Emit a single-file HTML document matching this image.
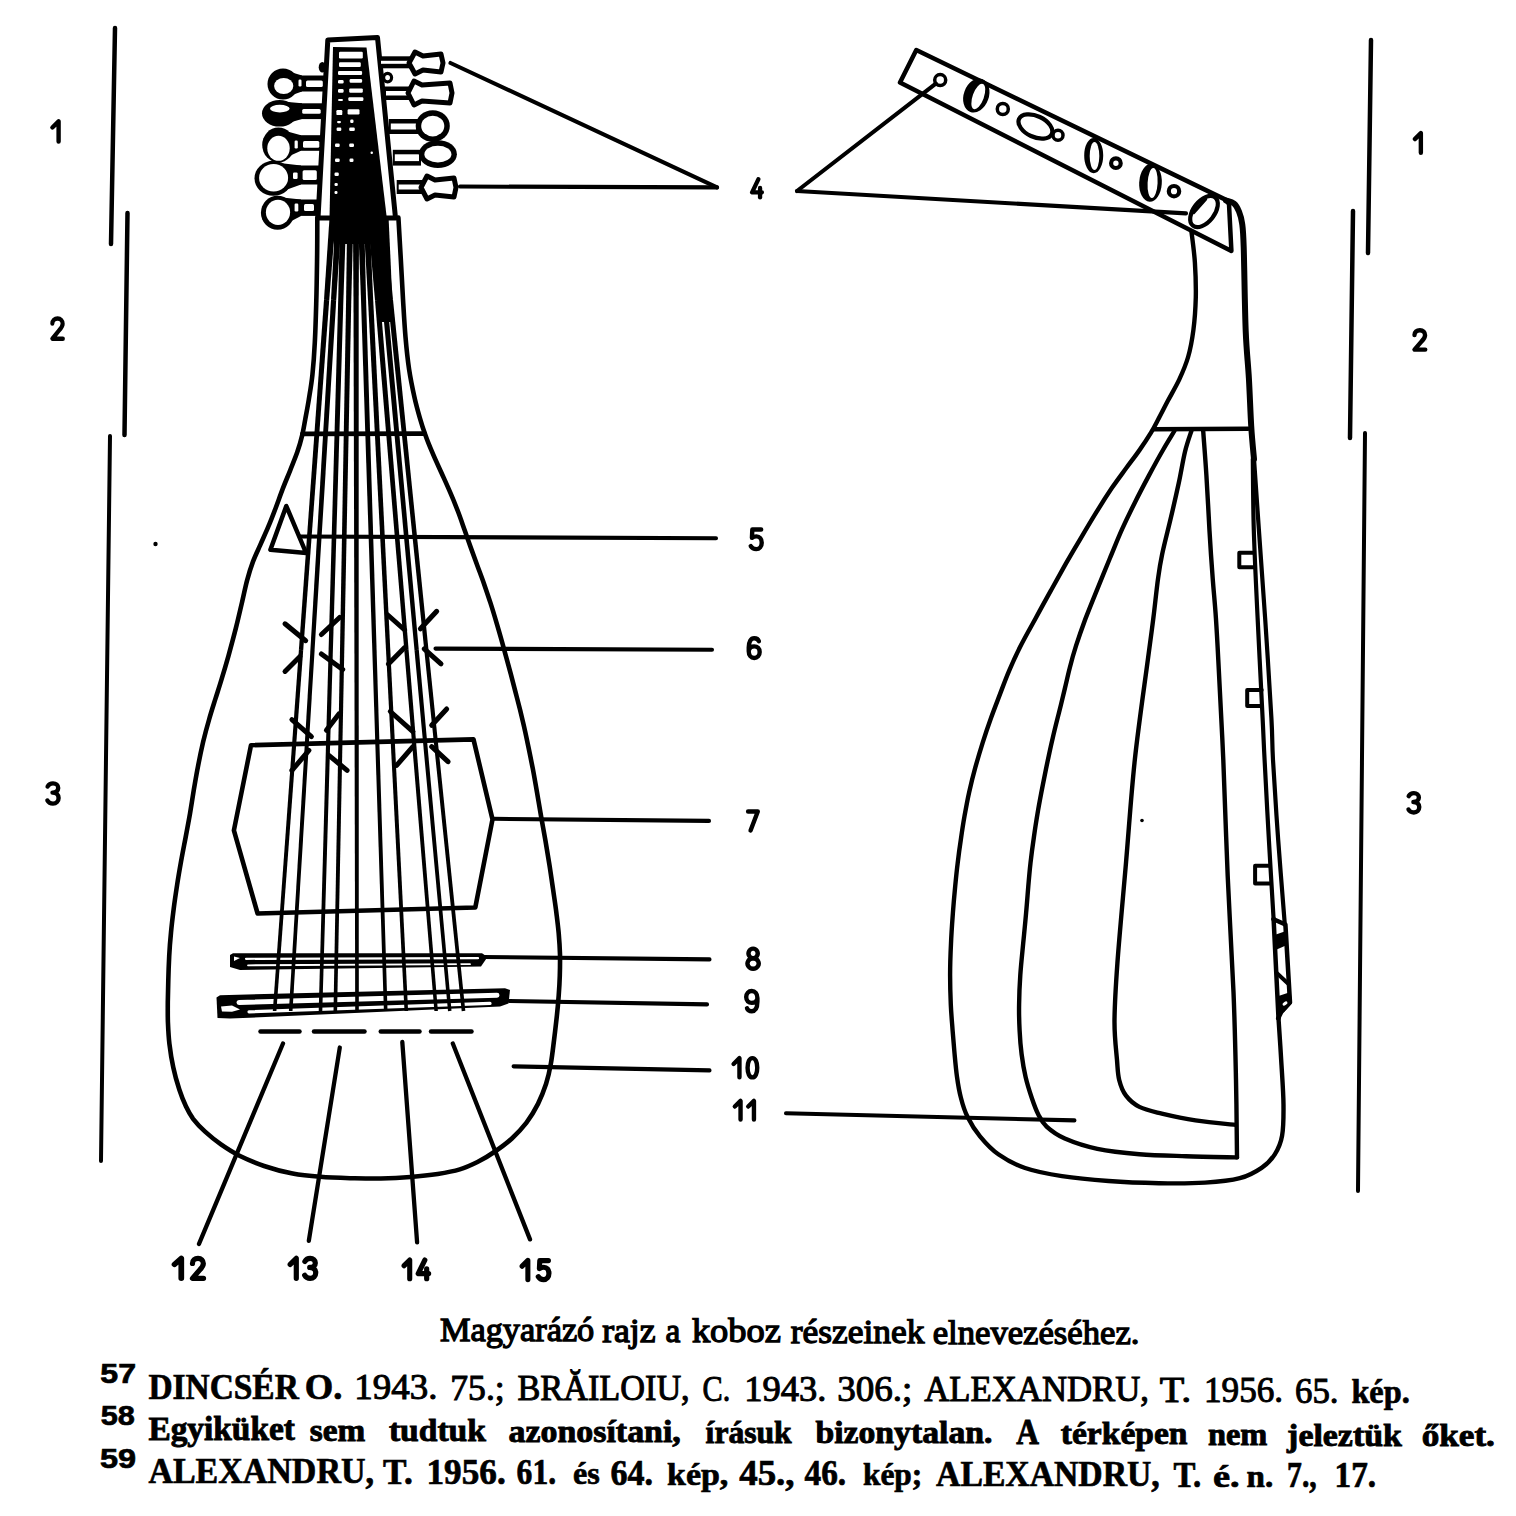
<!DOCTYPE html>
<html><head><meta charset="utf-8"><title>koboz</title>
<style>html,body{margin:0;padding:0;background:#fff;} body{width:1516px;height:1516px;overflow:hidden;} svg{display:block;}</style>
</head><body>
<svg width="1516" height="1516" viewBox="0 0 1516 1516">
<line x1="115.0" y1="28.0" x2="111.0" y2="244.0" stroke="#000" stroke-width="4.5" stroke-linecap="round"/>
<line x1="127.5" y1="213.0" x2="124.5" y2="435.0" stroke="#000" stroke-width="4.5" stroke-linecap="round"/>
<line x1="110.0" y1="436.0" x2="101.0" y2="1161.0" stroke="#000" stroke-width="4" stroke-linecap="round"/>
<line x1="1371.0" y1="40.0" x2="1368.0" y2="253.0" stroke="#000" stroke-width="4.5" stroke-linecap="round"/>
<line x1="1353.0" y1="211.0" x2="1350.0" y2="438.0" stroke="#000" stroke-width="4.5" stroke-linecap="round"/>
<line x1="1365.0" y1="433.0" x2="1358.0" y2="1191.0" stroke="#000" stroke-width="4" stroke-linecap="round"/>
<path d="M317.3,217.6 C317.3,224.2 317.3,243.5 317.1,257.4 C316.9,271.3 316.7,286.8 316.3,301.0 C315.9,315.2 315.5,330.4 314.8,342.7 C314.2,355.0 313.4,365.4 312.4,374.9 C311.4,384.4 310.0,392.1 308.8,399.6 C307.6,407.0 306.3,413.6 305.2,419.6 C304.1,425.6 303.4,430.2 302.1,435.6 C300.8,441.0 299.3,446.3 297.3,452.1 C295.3,457.9 292.6,464.2 290.2,470.3 C287.8,476.4 285.1,482.6 282.7,488.9 C280.3,495.2 278.0,501.8 275.6,508.2 C273.2,514.6 270.7,521.1 268.1,527.2 C265.5,533.4 262.7,539.3 260.2,545.1 C257.6,550.9 255.0,556.2 252.8,562.1 C250.6,568.0 248.9,573.6 247.1,580.3 C245.3,586.9 244.0,594.0 242.1,602.0 C240.2,610.0 238.1,619.4 235.8,628.4 C233.5,637.4 230.7,647.7 228.4,656.1 C226.0,664.6 223.8,672.0 221.6,679.2 C219.5,686.3 217.5,692.2 215.4,698.9 C213.3,705.6 211.1,712.3 209.1,719.5 C207.0,726.7 205.0,734.3 203.1,742.0 C201.3,749.8 199.6,757.9 198.1,765.9 C196.5,773.9 195.2,781.9 193.8,789.9 C192.5,797.8 191.3,805.8 190.0,813.7 C188.6,821.7 187.1,829.6 185.6,837.5 C184.1,845.4 182.5,853.3 181.1,861.2 C179.7,869.1 178.3,877.1 177.1,885.0 C175.9,892.9 174.7,900.8 173.7,908.7 C172.7,916.6 171.7,924.6 171.0,932.5 C170.2,940.4 169.6,948.3 169.2,956.2 C168.8,964.1 168.5,972.4 168.3,980.0 C168.1,987.6 167.9,994.9 167.8,1001.9 C167.8,1008.8 167.7,1014.9 167.9,1021.8 C168.2,1028.8 168.5,1036.1 169.4,1043.7 C170.3,1051.3 171.6,1059.8 173.3,1067.5 C174.9,1075.1 177.2,1083.0 179.3,1089.5 C181.4,1095.9 183.6,1101.4 185.9,1106.3 C188.2,1111.2 190.0,1114.5 193.1,1118.8 C196.3,1123.0 200.4,1127.3 205.1,1131.6 C209.8,1135.9 215.6,1140.6 221.3,1144.7 C227.1,1148.7 232.4,1152.2 239.5,1155.8 C246.7,1159.3 255.3,1163.1 264.1,1166.0 C272.9,1169.0 283.2,1171.8 292.6,1173.6 C302.0,1175.4 310.7,1176.1 320.3,1176.8 C329.9,1177.6 339.9,1177.9 350.0,1178.2 C360.1,1178.4 370.8,1178.7 380.9,1178.5 C390.9,1178.3 400.9,1177.8 410.4,1177.0 C419.9,1176.2 429.5,1175.2 437.7,1174.0 C445.9,1172.7 453.1,1171.4 459.8,1169.4 C466.4,1167.4 471.6,1164.9 477.5,1162.0 C483.4,1159.0 489.3,1155.5 495.0,1151.5 C500.8,1147.6 506.7,1143.3 511.9,1138.5 C517.2,1133.7 522.1,1128.4 526.5,1122.7 C530.8,1116.9 534.7,1110.4 538.0,1103.9 C541.2,1097.4 543.9,1090.5 546.1,1083.8 C548.2,1077.0 549.6,1070.7 550.9,1063.3 C552.2,1056.0 553.1,1047.5 554.1,1039.6 C555.1,1031.6 556.1,1023.0 556.9,1015.6 C557.7,1008.3 558.2,1002.2 558.7,995.5 C559.2,988.8 559.6,982.3 559.8,975.5 C560.0,968.7 560.1,961.4 560.0,954.4 C559.8,947.4 559.3,940.3 558.7,933.3 C558.1,926.3 557.2,919.5 556.3,912.2 C555.4,904.9 554.2,897.5 553.1,889.5 C551.9,881.6 550.7,872.8 549.4,864.6 C548.1,856.4 546.7,848.3 545.4,840.4 C544.0,832.4 542.6,824.9 541.2,817.0 C539.8,809.1 538.5,800.9 537.1,792.9 C535.7,784.8 534.3,776.7 532.8,768.7 C531.2,760.7 529.7,752.9 528.0,745.0 C526.4,737.1 524.7,729.1 522.8,721.2 C521.0,713.3 519.0,705.4 516.9,697.5 C514.9,689.6 512.8,681.8 510.7,673.7 C508.5,665.7 506.3,657.3 504.0,649.1 C501.8,640.8 499.3,632.1 497.0,624.3 C494.7,616.5 492.5,609.2 490.3,602.4 C488.1,595.6 486.0,589.6 483.9,583.4 C481.7,577.2 479.4,571.2 477.2,565.2 C475.0,559.2 472.8,553.3 470.7,547.4 C468.6,541.5 466.7,535.9 464.6,530.0 C462.5,524.1 460.5,518.1 458.1,511.8 C455.7,505.5 453.1,499.0 450.2,492.4 C447.4,485.8 444.2,478.9 441.2,472.2 C438.2,465.6 434.9,458.7 432.3,452.4 C429.6,446.2 427.3,440.6 425.3,434.8 C423.2,429.1 421.7,424.4 419.9,418.1 C418.1,411.8 416.2,405.1 414.4,396.9 C412.6,388.8 410.6,379.3 409.1,369.3 C407.6,359.3 406.5,348.7 405.5,337.0 C404.5,325.3 403.8,312.4 403.0,299.1 C402.2,285.8 401.5,271.0 400.7,257.4 C399.9,243.8 398.8,224.2 398.4,217.6" fill="none" stroke="#000" stroke-width="4.6" stroke-linecap="round" stroke-linejoin="round"/>
<line x1="302.5" y1="433.8" x2="424.5" y2="433.6" stroke="#000" stroke-width="4.8" stroke-linecap="round"/>
<path d="M327.8,40.0 L377.5,37.5 L395.5,218.0 L318.0,218.0 Z" fill="none" stroke="#000" stroke-width="5" stroke-linecap="round" stroke-linejoin="round"/>
<path d="M333.0,47.0 L366.5,47.5 L386.8,218.0 L329.5,218.0 Z" fill="#000"/>
<rect x="339" y="51.8" width="23.8" height="6.6" rx="1.2" fill="#fff"/>
<rect x="339" y="62.3" width="21.8" height="4.7" rx="1.2" fill="#fff"/>
<rect x="338" y="70.9" width="24.1" height="4.0" rx="1.2" fill="#fff"/>
<rect x="338" y="80.1" width="5.6" height="3.3" rx="1.2" fill="#fff"/>
<rect x="349.6" y="79.1" width="12.5" height="3.7" rx="1.2" fill="#fff"/>
<rect x="338" y="89" width="5.6" height="3.7" rx="1.2" fill="#fff"/>
<rect x="349.2" y="88.4" width="13.6" height="4.3" rx="1.2" fill="#fff"/>
<rect x="338" y="98.9" width="5.0" height="2.0" rx="1.2" fill="#fff"/>
<rect x="348.3" y="97.3" width="15.1" height="3.6" rx="1.2" fill="#fff"/>
<rect x="336.4" y="110.1" width="5.9" height="5.0" rx="1.2" fill="#fff"/>
<rect x="347.6" y="109.2" width="11.9" height="5.2" rx="1.2" fill="#fff"/>
<rect x="337" y="121" width="4.0" height="2.2" rx="1.2" fill="#fff"/>
<rect x="350.2" y="119.5" width="3.3" height="3.5" rx="1.2" fill="#fff"/>
<rect x="336.6" y="127.5" width="4.7" height="3.5" rx="1.2" fill="#fff"/>
<rect x="349.2" y="127.5" width="5.6" height="3.5" rx="1.2" fill="#fff"/>
<rect x="335" y="143.5" width="4.7" height="3.5" rx="1.2" fill="#fff"/>
<rect x="349.2" y="143.5" width="4.8" height="3.5" rx="1.2" fill="#fff"/>
<rect x="335" y="158.5" width="4.7" height="3.5" rx="1.2" fill="#fff"/>
<rect x="349.5" y="158.5" width="4.0" height="3.5" rx="1.2" fill="#fff"/>
<rect x="334.5" y="172.5" width="4.3" height="3.5" rx="1.2" fill="#fff"/>
<rect x="370.5" y="151.5" width="2.5" height="2.5" rx="1.2" fill="#fff"/>
<rect x="334.5" y="183" width="3.3" height="3.0" rx="1.2" fill="#fff"/>
<rect x="334.5" y="191" width="3.0" height="3.0" rx="1.2" fill="#fff"/>
<ellipse cx="283" cy="84" rx="15.5" ry="15.5" fill="#000"/>
<path d="M283.0,69.7 L302.0,75.5 L302.0,91.5 L283.0,98.3 Z" fill="#000"/>
<rect x="297.0" y="75.5" width="28.0" height="16.0" fill="#000"/>
<rect x="306" y="80.6" width="16.8" height="6.3" rx="1.5" fill="#fff"/>
<rect x="298.5" y="79.5" width="3.0" height="7.0" rx="1.2" fill="#fff"/>
<ellipse cx="283.7" cy="86" rx="9.6" ry="8" fill="#fff"/>
<ellipse cx="279.5" cy="113.3" rx="17.5" ry="13.2" fill="#000"/>
<path d="M279.5,101.2 L302.0,103.3 L302.0,119.1 L279.5,125.4 Z" fill="#000"/>
<rect x="297.0" y="103.3" width="26.0" height="15.8" fill="#000"/>
<rect x="302.2" y="109.1" width="18.5" height="4.7" rx="1.5" fill="#fff"/>
<ellipse cx="279.8" cy="108.6" rx="9.8" ry="3.8" fill="#fff"/>
<ellipse cx="278.4" cy="145" rx="16.2" ry="17.5" fill="#000"/>
<path d="M278.4,128.9 L301.0,135.2 L301.0,150.8 L278.4,161.1 Z" fill="#000"/>
<rect x="296.0" y="135.2" width="25.5" height="15.6" fill="#000"/>
<rect x="303" y="141.1" width="16.3" height="6.6" rx="1.5" fill="#fff"/>
<rect x="294.6" y="140.6" width="3.2" height="7.9" rx="1.2" fill="#fff"/>
<ellipse cx="278.5" cy="148.3" rx="11.2" ry="12.5" fill="#fff"/>
<ellipse cx="273.4" cy="178.3" rx="18.9" ry="17.5" fill="#000"/>
<path d="M273.4,162.2 L301.0,165.5 L301.0,184.5 L273.4,194.4 Z" fill="#000"/>
<rect x="296.0" y="165.5" width="24.0" height="19.0" fill="#000"/>
<rect x="302.6" y="170.2" width="14.2" height="9.7" rx="1.5" fill="#fff"/>
<rect x="293" y="172.4" width="4.6" height="6.6" rx="1.2" fill="#fff"/>
<ellipse cx="273.6" cy="177.8" rx="14.5" ry="13.8" fill="#fff"/>
<ellipse cx="277.6" cy="212.7" rx="16.7" ry="17" fill="#000"/>
<path d="M277.6,197.1 L301.0,199.5 L301.0,215.9 L277.6,228.3 Z" fill="#000"/>
<rect x="296.0" y="199.5" width="23.0" height="16.4" fill="#000"/>
<rect x="304" y="204.1" width="10.0" height="6.9" rx="1.5" fill="#fff"/>
<rect x="294.6" y="203.6" width="3.7" height="7.9" rx="1.2" fill="#fff"/>
<ellipse cx="278" cy="212.3" rx="12.1" ry="12.6" fill="#fff"/>
<ellipse cx="322.3" cy="67.3" rx="3.6" ry="5.2" fill="#000"/>
<ellipse cx="387.6" cy="77.6" rx="4" ry="4.3" fill="none" stroke="#000" stroke-width="3.2"/>
<rect x="379.0" y="56.3" width="32.0" height="12.0" fill="#000"/>
<rect x="381.0" y="60.8" width="28.0" height="3.0" fill="#fff"/>
<path d="M409.0,63.0 L415.0,52.0 L423.0,56.0 L441.0,54.0 L443.0,63.0 L441.0,72.0 L423.0,70.0 L415.0,74.0 Z" fill="#fff" stroke="#000" stroke-width="5" stroke-linejoin="round"/>
<rect x="384.0" y="86.5" width="25.0" height="13.5" fill="#000"/>
<rect x="386.0" y="91.0" width="21.0" height="4.5" fill="#fff"/>
<path d="M408.0,93.0 L414.0,81.0 L422.0,85.0 L450.0,83.0 L452.0,93.0 L450.0,103.0 L422.0,101.0 L414.0,105.0 Z" fill="#fff" stroke="#000" stroke-width="5" stroke-linejoin="round"/>
<rect x="388.8" y="119.0" width="29.2" height="15.0" fill="#000"/>
<rect x="390.8" y="123.5" width="25.2" height="6.0" fill="#fff"/>
<ellipse cx="432.75" cy="126.05000000000001" rx="17.05000000000001" ry="15.850000000000001" fill="#000"/>
<ellipse cx="432.75" cy="126.05000000000001" rx="11.550000000000011" ry="10.350000000000001" fill="#fff"/>
<rect x="392.8" y="149.8" width="28.2" height="15.8" fill="#000"/>
<rect x="394.8" y="154.3" width="24.2" height="6.8" fill="#fff"/>
<ellipse cx="437.9" cy="154.15" rx="19.0" ry="13.849999999999994" fill="#000"/>
<ellipse cx="437.9" cy="154.15" rx="13.5" ry="8.349999999999994" fill="#fff"/>
<rect x="396.7" y="180.0" width="27.3" height="14.0" fill="#000"/>
<rect x="398.7" y="184.5" width="23.3" height="5.0" fill="#fff"/>
<path d="M421.0,187.5 L427.0,176.0 L435.0,180.0 L454.0,178.0 L456.0,187.5 L454.0,197.0 L435.0,195.0 L427.0,199.0 Z" fill="#fff" stroke="#000" stroke-width="5" stroke-linejoin="round"/>
<path d="M286.3,506.0 L270.4,549.8 L306.1,553.0 Z" fill="none" stroke="#000" stroke-width="4.5" stroke-linecap="round" stroke-linejoin="round"/>
<line x1="285.0" y1="623.8" x2="305.7" y2="640.7" stroke="#000" stroke-width="5" stroke-linecap="round"/>
<line x1="285.0" y1="671.4" x2="300.0" y2="656.4" stroke="#000" stroke-width="5" stroke-linecap="round"/>
<line x1="321.4" y1="634.5" x2="339.6" y2="617.5" stroke="#000" stroke-width="5" stroke-linecap="round"/>
<line x1="321.4" y1="653.9" x2="342.7" y2="669.6" stroke="#000" stroke-width="5" stroke-linecap="round"/>
<line x1="387.8" y1="615.0" x2="404.7" y2="630.0" stroke="#000" stroke-width="5" stroke-linecap="round"/>
<line x1="388.4" y1="664.0" x2="404.7" y2="647.6" stroke="#000" stroke-width="5" stroke-linecap="round"/>
<line x1="420.4" y1="628.8" x2="436.7" y2="611.3" stroke="#000" stroke-width="5" stroke-linecap="round"/>
<line x1="424.2" y1="648.9" x2="441.0" y2="663.9" stroke="#000" stroke-width="5" stroke-linecap="round"/>
<line x1="291.9" y1="719.7" x2="311.4" y2="736.6" stroke="#000" stroke-width="5" stroke-linecap="round"/>
<line x1="291.9" y1="770.4" x2="308.9" y2="750.4" stroke="#000" stroke-width="5" stroke-linecap="round"/>
<line x1="326.4" y1="730.3" x2="338.9" y2="714.0" stroke="#000" stroke-width="5" stroke-linecap="round"/>
<line x1="328.9" y1="755.4" x2="347.1" y2="770.4" stroke="#000" stroke-width="5" stroke-linecap="round"/>
<line x1="390.3" y1="711.5" x2="412.9" y2="731.6" stroke="#000" stroke-width="5" stroke-linecap="round"/>
<line x1="396.6" y1="765.4" x2="412.9" y2="746.6" stroke="#000" stroke-width="5" stroke-linecap="round"/>
<line x1="431.7" y1="725.3" x2="446.7" y2="709.0" stroke="#000" stroke-width="5" stroke-linecap="round"/>
<line x1="431.7" y1="746.6" x2="448.0" y2="761.7" stroke="#000" stroke-width="5" stroke-linecap="round"/>
<path d="M251.0,745.2 L473.5,739.4 L492.5,819.4 L475.3,907.5 L257.6,913.5 L233.9,830.4 Z" fill="none" stroke="#000" stroke-width="4.6" stroke-linecap="round" stroke-linejoin="round"/>
<path d="M230.0,955.0 L233.0,953.2 L482.0,953.2 L487.5,957.0 L481.0,966.5 L240.0,970.0 L230.0,967.0 Z" fill="#000"/>
<line x1="246.0" y1="958.8" x2="478.0" y2="958.2" stroke="#fff" stroke-width="2.2" stroke-linecap="round"/>
<line x1="248.0" y1="965.3" x2="470.0" y2="964.2" stroke="#fff" stroke-width="1.8" stroke-linecap="round"/>
<path d="M234.0,956.5 L240.0,958.0 L234.0,961.0 Z" fill="#fff"/>
<path d="M216.5,997.5 L220.0,995.2 L505.0,988.2 L510.0,990.0 L508.5,1003.5 L500.0,1006.5 L230.0,1018.6 L217.5,1018.0 Z" fill="#000"/>
<line x1="239.0" y1="1002.4" x2="497.0" y2="995.2" stroke="#fff" stroke-width="5" stroke-linecap="round"/>
<line x1="249.0" y1="1011.8" x2="490.0" y2="1003.4" stroke="#fff" stroke-width="3.2" stroke-linecap="round"/>
<path d="M221.0,1006.5 L232.0,1005.5 L240.0,1009.5 L232.0,1011.8 L222.0,1011.5 Z" fill="#fff"/>
<path d="M329.6,216.8 L324.0,299.8 L329.2,300.2 L335.8,217.2 Z" fill="#000"/>
<path d="M324.0,299.8 L298.9,649.8 L303.2,650.2 L329.2,300.2 Z" fill="#000"/>
<path d="M298.9,649.8 L272.8,1010.9 L276.4,1011.1 L303.2,650.2 Z" fill="#000"/>
<path d="M335.5,216.8 L331.0,299.8 L336.2,300.2 L341.7,217.2 Z" fill="#000"/>
<path d="M331.0,299.8 L310.4,649.9 L314.6,650.1 L336.2,300.2 Z" fill="#000"/>
<path d="M310.4,649.9 L288.9,1010.9 L292.5,1011.1 L314.6,650.1 Z" fill="#000"/>
<path d="M340.0,216.9 L338.2,299.9 L343.4,300.1 L346.2,217.1 Z" fill="#000"/>
<path d="M338.2,299.9 L328.6,649.9 L332.9,650.1 L343.4,300.1 Z" fill="#000"/>
<path d="M328.6,649.9 L318.7,1010.9 L322.3,1011.1 L332.9,650.1 Z" fill="#000"/>
<path d="M347.2,216.9 L346.1,300.0 L351.3,300.0 L353.4,217.1 Z" fill="#000"/>
<path d="M346.1,300.0 L340.0,650.0 L344.3,650.0 L351.3,300.0 Z" fill="#000"/>
<path d="M340.0,650.0 L333.5,1011.0 L337.1,1011.0 L344.3,650.0 Z" fill="#000"/>
<path d="M352.9,217.0 L353.5,300.0 L358.7,300.0 L359.1,217.0 Z" fill="#000"/>
<path d="M353.5,300.0 L354.4,650.0 L358.7,650.0 L358.7,300.0 Z" fill="#000"/>
<path d="M354.4,650.0 L355.2,1011.0 L358.8,1011.0 L358.7,650.0 Z" fill="#000"/>
<path d="M357.9,217.1 L361.0,300.1 L366.1,299.9 L364.1,216.9 Z" fill="#000"/>
<path d="M361.0,300.1 L372.3,650.1 L376.6,649.9 L366.1,299.9 Z" fill="#000"/>
<path d="M372.3,650.1 L383.9,1011.1 L387.5,1010.9 L376.6,649.9 Z" fill="#000"/>
<path d="M363.3,217.2 L368.0,300.1 L373.2,299.9 L369.5,216.8 Z" fill="#000"/>
<path d="M368.0,300.1 L386.0,650.1 L390.3,649.9 L373.2,299.9 Z" fill="#000"/>
<path d="M386.0,650.1 L404.5,1011.1 L408.1,1010.9 L390.3,649.9 Z" fill="#000"/>
<path d="M367.7,217.3 L375.0,300.2 L380.2,299.8 L373.8,216.7 Z" fill="#000"/>
<path d="M375.0,300.2 L404.3,650.2 L408.6,649.8 L380.2,299.8 Z" fill="#000"/>
<path d="M404.3,650.2 L434.4,1011.1 L437.9,1010.9 L408.6,649.8 Z" fill="#000"/>
<path d="M373.9,217.3 L382.0,300.2 L387.2,299.8 L380.1,216.7 Z" fill="#000"/>
<path d="M382.0,300.2 L414.5,650.2 L418.8,649.8 L387.2,299.8 Z" fill="#000"/>
<path d="M414.5,650.2 L448.0,1011.2 L451.5,1010.8 L418.8,649.8 Z" fill="#000"/>
<path d="M378.8,217.3 L387.9,300.3 L393.0,299.7 L385.0,216.7 Z" fill="#000"/>
<path d="M387.9,300.3 L424.3,650.2 L428.5,649.8 L393.0,299.7 Z" fill="#000"/>
<path d="M424.3,650.2 L461.7,1011.2 L465.3,1010.8 L428.5,649.8 Z" fill="#000"/>
<path d="M331.0,216.0 L387.0,216.0 L386.5,236.0 L384.5,244.0 L334.0,244.0 L332.0,236.0 Z" fill="#000"/>
<path d="M369.0,216.0 L388.5,216.0 L391.0,270.0 L393.0,322.0 L379.0,322.0 L374.0,270.0 Z" fill="#000"/>
<line x1="260.5" y1="1031.6" x2="299.5" y2="1031.6" stroke="#000" stroke-width="4.5" stroke-linecap="round"/>
<line x1="314.0" y1="1031.6" x2="364.5" y2="1031.6" stroke="#000" stroke-width="4.5" stroke-linecap="round"/>
<line x1="380.8" y1="1031.6" x2="419.5" y2="1031.6" stroke="#000" stroke-width="4.5" stroke-linecap="round"/>
<line x1="431.0" y1="1031.6" x2="471.5" y2="1031.6" stroke="#000" stroke-width="4.5" stroke-linecap="round"/>
<line x1="283.0" y1="1043.5" x2="199.0" y2="1243.9" stroke="#000" stroke-width="4.3" stroke-linecap="round"/>
<line x1="339.8" y1="1047.5" x2="308.8" y2="1240.9" stroke="#000" stroke-width="4.3" stroke-linecap="round"/>
<line x1="402.3" y1="1042.0" x2="417.1" y2="1242.4" stroke="#000" stroke-width="4.3" stroke-linecap="round"/>
<line x1="452.8" y1="1043.5" x2="530.0" y2="1239.4" stroke="#000" stroke-width="4.3" stroke-linecap="round"/>
<line x1="450.5" y1="63.0" x2="717.0" y2="187.4" stroke="#000" stroke-width="4.1" stroke-linecap="round"/>
<line x1="460.0" y1="186.5" x2="717.0" y2="187.4" stroke="#000" stroke-width="4.1" stroke-linecap="round"/>
<line x1="300.0" y1="536.5" x2="716.0" y2="538.3" stroke="#000" stroke-width="4.1" stroke-linecap="round"/>
<line x1="435.5" y1="648.6" x2="712.0" y2="649.7" stroke="#000" stroke-width="4.1" stroke-linecap="round"/>
<line x1="493.0" y1="818.8" x2="709.0" y2="820.9" stroke="#000" stroke-width="4.1" stroke-linecap="round"/>
<line x1="483.7" y1="957.0" x2="709.5" y2="959.4" stroke="#000" stroke-width="4.1" stroke-linecap="round"/>
<line x1="509.5" y1="1001.0" x2="707.0" y2="1004.4" stroke="#000" stroke-width="4.1" stroke-linecap="round"/>
<line x1="513.6" y1="1066.4" x2="709.5" y2="1070.4" stroke="#000" stroke-width="4.1" stroke-linecap="round"/>
<path d="M916.3,50.0 L1225.5,199.6 L1229.0,204.0 L1231.4,250.9 L900.0,82.6 Z" fill="none" stroke="#000" stroke-width="4.5" stroke-linecap="round" stroke-linejoin="round"/>
<ellipse cx="940.2" cy="80.1" rx="5.5" ry="5.5" fill="none" stroke="#000" stroke-width="3.5"/>
<ellipse cx="976.3" cy="95.5" rx="12.5" ry="17.5" fill="#000" transform="rotate(20 976.3 95.5)"/>
<ellipse cx="978.3" cy="96.5" rx="5.6" ry="13.3" fill="#fff" transform="rotate(20 978.3 96.5)"/>
<ellipse cx="1002.8" cy="109" rx="5.5" ry="5.5" fill="none" stroke="#000" stroke-width="3.5"/>
<ellipse cx="1035.4" cy="126.5" rx="18" ry="10.5" fill="none" stroke="#000" stroke-width="4.2" transform="rotate(25 1035.4 126.5)"/>
<ellipse cx="1058" cy="135.3" rx="5" ry="5" fill="none" stroke="#000" stroke-width="3.5"/>
<ellipse cx="1093.7" cy="155.6" rx="9.5" ry="17.7" fill="#000"/>
<ellipse cx="1094.5" cy="156.1" rx="4.8" ry="14" fill="#fff"/>
<ellipse cx="1115.9" cy="163.2" rx="4.8" ry="4.8" fill="none" stroke="#000" stroke-width="4.2"/>
<ellipse cx="1150.5" cy="182.8" rx="11.3" ry="19" fill="#000" transform="rotate(3 1150.5 182.8)"/>
<ellipse cx="1152.6" cy="183" rx="5" ry="15" fill="#fff" transform="rotate(3 1152.6 183)"/>
<ellipse cx="1174" cy="191.2" rx="5.2" ry="5.2" fill="none" stroke="#000" stroke-width="4.2"/>
<ellipse cx="1204" cy="211.5" rx="10.5" ry="18" fill="none" stroke="#000" stroke-width="4.2" transform="rotate(38 1204 211.5)"/>
<line x1="1193.5" y1="212.5" x2="1205.5" y2="199.0" stroke="#000" stroke-width="3.5" stroke-linecap="round"/>
<line x1="797.0" y1="191.0" x2="935.8" y2="83.6" stroke="#000" stroke-width="4.1" stroke-linecap="round"/>
<line x1="797.0" y1="191.0" x2="1186.0" y2="213.4" stroke="#000" stroke-width="4.1" stroke-linecap="round"/>
<path d="M1226.0,200.5 C1227.3,201.0 1231.8,201.7 1234.0,203.5 C1236.2,205.3 1237.7,208.2 1239.0,211.5 C1240.3,214.8 1241.3,217.4 1242.1,223.3 C1242.9,229.2 1243.1,229.1 1243.7,247.0 C1244.3,264.9 1244.8,308.9 1245.7,330.8 C1246.6,352.7 1248.0,362.5 1248.9,378.4 C1249.8,394.2 1250.4,412.5 1251.2,425.9 C1252.0,439.3 1253.5,453.5 1254.0,459.0" fill="none" stroke="#000" stroke-width="6" stroke-linecap="round" stroke-linejoin="round"/>
<path d="M1252.8,459.0 C1253.0,470.8 1253.0,503.6 1253.8,530.0 C1254.6,556.5 1256.1,586.4 1257.6,617.7 C1259.1,649.0 1261.4,694.3 1262.6,718.0 C1263.8,741.7 1263.5,739.7 1264.6,760.0 C1265.6,780.3 1267.4,813.5 1268.9,840.0 C1270.4,866.5 1272.8,906.0 1273.6,919.2" fill="none" stroke="#000" stroke-width="4.2" stroke-linecap="round" stroke-linejoin="round"/>
<path d="M1254.0,459.0 C1254.8,470.8 1257.1,503.6 1258.9,530.0 C1260.8,556.5 1263.0,586.4 1265.1,617.7 C1267.2,649.0 1270.1,694.3 1271.4,718.0 C1272.7,741.7 1271.9,739.7 1273.0,760.0 C1274.1,780.3 1276.2,812.6 1278.2,840.0 C1280.2,867.4 1283.7,910.4 1284.8,924.5" fill="none" stroke="#000" stroke-width="4.2" stroke-linecap="round" stroke-linejoin="round"/>
<path d="M1273.6,919.2 L1285.4,924.5 L1290.0,1002.4 L1281.5,1011.6 L1278.2,1018.2" fill="none" stroke="#000" stroke-width="4.5" stroke-linecap="round" stroke-linejoin="round"/>
<line x1="1273.6" y1="919.0" x2="1278.5" y2="1018.2" stroke="#000" stroke-width="4.5" stroke-linecap="round"/>
<path d="M1274.5,935.0 L1286.0,931.0 L1287.0,945.0 L1275.5,950.0 Z" fill="#000"/>
<line x1="1277.0" y1="973.3" x2="1288.5" y2="984.0" stroke="#000" stroke-width="4" stroke-linecap="round"/>
<path d="M1278.5,996.0 L1290.5,992.0 L1292.0,1003.0 L1284.0,1012.0 L1279.5,1014.0 Z" fill="#000"/>
<ellipse cx="1285" cy="1003.5" rx="2.8" ry="1.6" fill="#fff" transform="rotate(-35 1285 1003.5)"/>
<path d="M1191.5,232.0 C1192.1,237.1 1194.2,251.7 1194.9,262.6 C1195.6,273.5 1196.0,286.0 1195.8,297.2 C1195.5,308.4 1194.7,320.1 1193.4,330.0 C1192.1,340.0 1190.5,348.7 1188.1,357.0 C1185.7,365.3 1182.6,372.3 1179.2,379.6 C1175.8,386.8 1171.3,394.3 1168.0,400.6 C1164.6,407.0 1161.9,412.6 1159.0,417.9 C1156.2,423.2 1154.2,427.3 1151.0,432.7 C1147.8,438.0 1143.7,444.2 1139.5,450.1 C1135.4,456.0 1130.7,462.0 1126.1,468.3 C1121.5,474.6 1116.8,480.8 1111.8,488.1 C1106.9,495.4 1101.5,503.9 1096.4,512.2 C1091.3,520.5 1086.0,529.4 1081.0,537.9 C1075.9,546.4 1071.0,554.7 1066.0,563.4 C1061.1,572.1 1056.3,580.7 1051.2,590.0 C1046.1,599.2 1040.5,609.3 1035.4,618.8 C1030.2,628.2 1024.6,638.0 1020.3,646.6 C1015.9,655.3 1012.6,662.7 1009.2,670.6 C1005.8,678.5 1003.1,686.0 1000.1,693.9 C997.1,701.8 993.9,709.9 991.0,718.0 C988.1,726.1 985.3,734.3 982.7,742.6 C980.1,750.9 977.5,759.6 975.2,767.9 C972.9,776.2 970.9,784.4 969.1,792.4 C967.3,800.5 965.9,808.3 964.5,816.2 C963.1,824.1 961.9,832.1 960.8,839.9 C959.6,847.7 958.6,855.3 957.7,863.0 C956.7,870.8 956.0,878.0 955.2,886.3 C954.4,894.6 953.6,903.4 952.9,912.9 C952.2,922.4 951.4,933.0 951.0,943.3 C950.5,953.7 950.1,964.8 950.1,975.0 C950.1,985.2 950.4,995.4 950.8,1004.6 C951.2,1013.8 952.0,1022.1 952.6,1030.3 C953.3,1038.6 953.9,1046.3 954.6,1054.1 C955.3,1061.8 956.0,1069.7 957.0,1076.9 C958.0,1084.2 959.1,1091.0 960.9,1097.7 C962.6,1104.4 964.4,1110.6 967.6,1117.0 C970.8,1123.5 974.8,1130.1 980.0,1136.3 C985.2,1142.6 991.2,1149.3 998.7,1154.5 C1006.2,1159.8 1014.5,1164.4 1025.1,1168.0 C1035.6,1171.6 1048.1,1174.0 1062.0,1176.1 C1076.0,1178.3 1092.4,1179.8 1108.6,1181.0 C1124.7,1182.2 1143.0,1182.9 1159.0,1183.2 C1175.1,1183.5 1191.5,1183.5 1205.0,1182.6 C1218.5,1181.8 1230.3,1180.7 1239.8,1178.2 C1249.2,1175.7 1255.8,1171.7 1261.6,1167.8 C1267.5,1163.8 1271.4,1159.7 1274.8,1154.3 C1278.2,1149.0 1280.7,1143.8 1282.1,1135.6 C1283.6,1127.3 1283.6,1116.4 1283.5,1104.7 C1283.4,1093.0 1282.4,1079.6 1281.5,1065.2 C1280.7,1050.8 1279.0,1026.1 1278.5,1018.3" fill="none" stroke="#000" stroke-width="4.4" stroke-linecap="round" stroke-linejoin="round"/>
<line x1="1154.0" y1="429.3" x2="1248.0" y2="428.7" stroke="#000" stroke-width="4.4" stroke-linecap="round"/>
<path d="M1174.4,431.0 C1172.5,434.2 1167.2,442.6 1163.0,450.0 C1158.7,457.4 1153.7,466.6 1149.0,475.4 C1144.3,484.2 1139.3,493.7 1134.8,502.7 C1130.3,511.7 1126.3,519.9 1122.1,529.2 C1117.9,538.5 1114.0,548.5 1109.8,558.5 C1105.7,568.5 1101.3,579.2 1097.2,589.3 C1093.1,599.4 1088.9,609.7 1085.3,619.1 C1081.8,628.6 1078.6,637.8 1076.0,645.9 C1073.4,654.0 1071.6,660.5 1069.8,667.8 C1067.9,675.1 1066.5,681.9 1064.6,689.6 C1062.8,697.2 1060.7,705.7 1058.7,713.7 C1056.7,721.7 1054.6,729.9 1052.8,737.8 C1050.9,745.7 1049.3,753.4 1047.6,761.2 C1046.0,769.0 1044.5,776.3 1042.9,784.5 C1041.3,792.7 1039.6,801.4 1038.1,810.2 C1036.6,819.1 1035.0,829.1 1033.8,837.9 C1032.5,846.7 1031.4,855.0 1030.5,863.0 C1029.6,871.1 1029.0,878.0 1028.3,886.3 C1027.6,894.6 1027.0,903.4 1026.1,912.9 C1025.3,922.4 1024.2,933.0 1023.2,943.3 C1022.2,953.7 1021.0,964.8 1020.3,975.0 C1019.6,985.2 1019.2,995.4 1019.1,1004.6 C1018.9,1013.8 1019.2,1022.1 1019.6,1030.3 C1020.0,1038.6 1020.6,1046.3 1021.6,1054.1 C1022.6,1061.9 1023.9,1069.7 1025.6,1077.0 C1027.3,1084.3 1029.7,1091.8 1031.8,1098.0 C1033.9,1104.2 1035.9,1109.8 1038.3,1114.5 C1040.8,1119.3 1042.2,1122.6 1046.6,1126.7 C1051.0,1130.7 1056.4,1134.9 1064.8,1138.6 C1073.3,1142.3 1084.9,1146.3 1097.4,1148.9 C1109.8,1151.5 1124.6,1153.0 1139.4,1154.2 C1154.2,1155.5 1170.0,1155.7 1186.2,1156.2 C1202.5,1156.8 1228.5,1157.2 1237.0,1157.4" fill="none" stroke="#000" stroke-width="4.4" stroke-linecap="round" stroke-linejoin="round"/>
<path d="M1191.4,431.0 C1190.3,434.4 1187.1,443.0 1185.0,451.7 C1182.9,460.4 1181.1,472.2 1178.7,483.3 C1176.3,494.4 1173.6,506.2 1170.8,518.1 C1168.0,530.0 1164.2,544.5 1162.1,554.5 C1160.0,564.5 1159.5,567.8 1158.1,578.3 C1156.6,588.8 1155.1,604.2 1153.4,617.8 C1151.7,631.4 1150.9,636.3 1147.8,660.0 C1144.7,683.7 1138.4,726.4 1134.8,760.0 C1131.2,793.6 1129.0,827.7 1126.1,861.6 C1123.2,895.5 1119.3,936.6 1117.4,963.2 C1115.5,989.8 1114.6,1005.1 1114.5,1021.2 C1114.4,1037.3 1116.2,1050.2 1117.0,1060.0 C1117.8,1069.8 1117.7,1074.0 1119.2,1080.0 C1120.7,1086.0 1122.6,1091.2 1126.0,1095.7 C1129.4,1100.2 1133.4,1103.9 1139.4,1106.9 C1145.4,1109.9 1152.5,1111.3 1161.8,1113.6 C1171.1,1115.8 1183.2,1118.5 1195.5,1120.4 C1207.8,1122.3 1229.1,1124.2 1235.8,1124.9" fill="none" stroke="#000" stroke-width="4.4" stroke-linecap="round" stroke-linejoin="round"/>
<path d="M1203.2,431.0 C1203.7,438.4 1205.4,458.8 1206.4,475.4 C1207.5,492.0 1208.5,513.6 1209.5,530.8 C1210.5,547.9 1211.6,563.8 1212.7,578.3 C1213.8,592.8 1215.0,604.2 1215.9,617.8 C1216.8,631.4 1217.1,636.3 1218.3,660.0 C1219.5,683.7 1221.7,724.0 1223.3,760.0 C1224.9,796.0 1226.0,837.3 1227.7,876.0 C1229.4,914.7 1232.1,958.2 1233.5,992.2 C1234.9,1026.2 1235.4,1052.5 1236.0,1080.0 C1236.6,1107.5 1236.8,1144.5 1237.0,1157.4" fill="none" stroke="#000" stroke-width="4.4" stroke-linecap="round" stroke-linejoin="round"/>
<path d="M1253.8,552.8 L1239.3,552.8 L1239.3,567.3 L1253.8,567.3" fill="none" stroke="#000" stroke-width="4" stroke-linecap="round" stroke-linejoin="round"/>
<path d="M1261.7,690.0 L1247.2,690.0 L1247.2,705.9 L1261.7,705.9" fill="none" stroke="#000" stroke-width="4" stroke-linecap="round" stroke-linejoin="round"/>
<path d="M1269.6,865.7 L1255.1,865.7 L1255.1,883.6 L1269.6,883.6" fill="none" stroke="#000" stroke-width="4" stroke-linecap="round" stroke-linejoin="round"/>
<line x1="786.0" y1="1113.2" x2="1074.4" y2="1120.4" stroke="#000" stroke-width="4.1" stroke-linecap="round"/>
<circle cx="155.5" cy="544" r="2.2" fill="#000"/>
<circle cx="1142" cy="820.5" r="1.8" fill="#000"/>
<g transform="translate(50.0,119.0) scale(1.000,1.000)" fill="none" stroke="#000" stroke-width="4.40" stroke-linecap="round" stroke-linejoin="round"><path d="M2.4,8.5 L8.6,2.4 L8.6,22.6"/></g>
<g transform="translate(49.9,316.1) scale(0.938,1.000)" fill="none" stroke="#000" stroke-width="4.40" stroke-linecap="round" stroke-linejoin="round"><path d="M2.6,7.5 C2.6,4.3 5,2.4 8.2,2.4 C11.4,2.4 13.6,4.6 13.6,7.6 C13.6,10.2 12,12 10,14 L2.6,22.6 L13.8,22.6"/></g>
<g transform="translate(45.0,781.0) scale(1.000,1.000)" fill="none" stroke="#000" stroke-width="4.40" stroke-linecap="round" stroke-linejoin="round"><path d="M2.6,5.5 C3.8,3.4 5.8,2.4 8,2.4 C11,2.4 13.2,4.3 13.2,7 C13.2,9.8 11,11.6 7.5,11.6 C11.5,11.6 13.6,13.8 13.6,17 C13.6,20.3 11.2,22.6 8,22.6 C5.6,22.6 3.5,21.5 2.4,19.5"/></g>
<g transform="translate(1412.5,130.8) scale(0.972,0.972)" fill="none" stroke="#000" stroke-width="4.53" stroke-linecap="round" stroke-linejoin="round"><path d="M2.4,8.5 L8.6,2.4 L8.6,22.6"/></g>
<g transform="translate(1412.0,327.9) scale(0.960,0.960)" fill="none" stroke="#000" stroke-width="4.58" stroke-linecap="round" stroke-linejoin="round"><path d="M2.6,7.5 C2.6,4.3 5,2.4 8.2,2.4 C11.4,2.4 13.6,4.6 13.6,7.6 C13.6,10.2 12,12 10,14 L2.6,22.6 L13.8,22.6"/></g>
<g transform="translate(1406.2,790.8) scale(0.960,0.960)" fill="none" stroke="#000" stroke-width="4.58" stroke-linecap="round" stroke-linejoin="round"><path d="M2.6,5.5 C3.8,3.4 5.8,2.4 8,2.4 C11,2.4 13.2,4.3 13.2,7 C13.2,9.8 11,11.6 7.5,11.6 C11.5,11.6 13.6,13.8 13.6,17 C13.6,20.3 11.2,22.6 8,22.6 C5.6,22.6 3.5,21.5 2.4,19.5"/></g>
<g transform="translate(750.0,177.2) scale(0.875,0.892)" fill="none" stroke="#000" stroke-width="4.93" stroke-linecap="round" stroke-linejoin="round"><path d="M9.5,2.4 L2.4,17 L13.6,17"/><path d="M11.5,12 L11.5,22.6"/></g>
<g transform="translate(748.4,527.0) scale(0.980,0.980)" fill="none" stroke="#000" stroke-width="4.49" stroke-linecap="round" stroke-linejoin="round"><path d="M13,2.6 L4,2.6 L3.6,11 C5,10.1 6.5,9.6 8.2,9.6 C11.4,9.6 13.6,12.2 13.6,16 C13.6,19.8 11.2,22.6 8,22.6 C5.5,22.6 3.6,21.5 2.4,19.5"/></g>
<g transform="translate(746.4,635.9) scale(0.976,0.976)" fill="none" stroke="#000" stroke-width="4.51" stroke-linecap="round" stroke-linejoin="round"><path d="M12.8,5.4 C12,3.3 10.4,2.4 8,2.4 C4.6,2.4 2.4,5.6 2.4,12 L2.4,15.6 C2.4,20.1 4.8,22.6 8,22.6 C11.2,22.6 13.6,20.2 13.6,16.5 C13.6,12.8 11.2,10.7 8,10.7 C5.1,10.7 3,12.4 2.5,14.6"/></g>
<g transform="translate(745.8,809.0) scale(0.952,0.952)" fill="none" stroke="#000" stroke-width="4.62" stroke-linecap="round" stroke-linejoin="round"><path d="M2.4,2.6 L12.6,2.6 L5,22.6"/></g>
<g transform="translate(745.1,946.2) scale(1.000,1.000)" fill="none" stroke="#000" stroke-width="4.40" stroke-linecap="round" stroke-linejoin="round"><path d="M8,2.4 A4.6,4.8 0 1 0 8.01,2.4 Z"/><path d="M8,12 A5.6,5.3 0 1 0 8.01,12 Z"/></g>
<g transform="translate(743.8,988.6) scale(1.000,1.000)" fill="none" stroke="#000" stroke-width="4.40" stroke-linecap="round" stroke-linejoin="round"><path d="M3.2,19.6 C4,21.7 5.6,22.6 8,22.6 C11.4,22.6 13.6,19.4 13.6,13 L13.6,9.4 C13.6,4.9 11.2,2.4 8,2.4 C4.8,2.4 2.4,4.8 2.4,8.5 C2.4,12.2 4.8,14.3 8,14.3 C10.9,14.3 13,12.6 13.5,10.4"/></g>
<g transform="translate(731.3,1055.9) scale(0.948,0.948)" fill="none" stroke="#000" stroke-width="4.64" stroke-linecap="round" stroke-linejoin="round"><path d="M2.4,8.5 L8.6,2.4 L8.6,22.6"/></g>
<g transform="translate(745.3,1055.9) scale(0.948,0.948)" fill="none" stroke="#000" stroke-width="4.64" stroke-linecap="round" stroke-linejoin="round"><path d="M7.5,2.4 C10.6,2.4 12.6,6.5 12.6,12.5 C12.6,18.5 10.6,22.6 7.5,22.6 C4.4,22.6 2.4,18.5 2.4,12.5 C2.4,6.5 4.4,2.4 7.5,2.4 Z"/></g>
<g transform="translate(732.6,1098.7) scale(0.924,0.924)" fill="none" stroke="#000" stroke-width="4.76" stroke-linecap="round" stroke-linejoin="round"><path d="M2.4,8.5 L8.6,2.4 L8.6,22.6"/></g>
<g transform="translate(746.0,1098.7) scale(0.924,0.924)" fill="none" stroke="#000" stroke-width="4.76" stroke-linecap="round" stroke-linejoin="round"><path d="M2.4,8.5 L8.6,2.4 L8.6,22.6"/></g>
<g transform="translate(171.9,1256.0) scale(1.091,0.988)" fill="none" stroke="#000" stroke-width="5.26" stroke-linecap="round" stroke-linejoin="round"><path d="M2.4,8.5 L8.6,2.4 L8.6,22.6"/></g>
<g transform="translate(189.9,1256.0) scale(0.988,0.988)" fill="none" stroke="#000" stroke-width="5.26" stroke-linecap="round" stroke-linejoin="round"><path d="M2.6,7.5 C2.6,4.3 5,2.4 8.2,2.4 C11.4,2.4 13.6,4.6 13.6,7.6 C13.6,10.2 12,12 10,14 L2.6,22.6 L13.8,22.6"/></g>
<g transform="translate(287.8,1256.0) scale(0.988,0.988)" fill="none" stroke="#000" stroke-width="5.26" stroke-linecap="round" stroke-linejoin="round"><path d="M2.4,8.5 L8.6,2.4 L8.6,22.6"/></g>
<g transform="translate(302.3,1256.0) scale(0.988,0.988)" fill="none" stroke="#000" stroke-width="5.26" stroke-linecap="round" stroke-linejoin="round"><path d="M2.6,5.5 C3.8,3.4 5.8,2.4 8,2.4 C11,2.4 13.2,4.3 13.2,7 C13.2,9.8 11,11.6 7.5,11.6 C11.5,11.6 13.6,13.8 13.6,17 C13.6,20.3 11.2,22.6 8,22.6 C5.6,22.6 3.5,21.5 2.4,19.5"/></g>
<g transform="translate(401.9,1257.8) scale(0.909,0.928)" fill="none" stroke="#000" stroke-width="5.60" stroke-linecap="round" stroke-linejoin="round"><path d="M2.4,8.5 L8.6,2.4 L8.6,22.6"/></g>
<g transform="translate(416.0,1257.8) scale(0.928,0.928)" fill="none" stroke="#000" stroke-width="5.60" stroke-linecap="round" stroke-linejoin="round"><path d="M9.5,2.4 L2.4,17 L13.6,17"/><path d="M11.5,12 L11.5,22.6"/></g>
<g transform="translate(519.9,1258.1) scale(0.927,0.952)" fill="none" stroke="#000" stroke-width="5.46" stroke-linecap="round" stroke-linejoin="round"><path d="M2.4,8.5 L8.6,2.4 L8.6,22.6"/></g>
<g transform="translate(536.0,1258.1) scale(0.952,0.952)" fill="none" stroke="#000" stroke-width="5.46" stroke-linecap="round" stroke-linejoin="round"><path d="M13,2.6 L4,2.6 L3.6,11 C5,10.1 6.5,9.6 8.2,9.6 C11.4,9.6 13.6,12.2 13.6,16 C13.6,19.8 11.2,22.6 8,22.6 C5.5,22.6 3.6,21.5 2.4,19.5"/></g>
<text x="439.9" y="1341.0" font-family="Liberation Serif" font-size="34" font-weight="normal" textLength="154.4" lengthAdjust="spacingAndGlyphs" stroke="#000" stroke-width="1.3">Magyarázó</text>
<text x="602.2" y="1341.9" font-family="Liberation Serif" font-size="34" font-weight="normal" textLength="53.4" lengthAdjust="spacingAndGlyphs" stroke="#000" stroke-width="1.3">rajz</text>
<text x="665.5" y="1342.3" font-family="Liberation Serif" font-size="34" font-weight="normal" textLength="14.8" lengthAdjust="spacingAndGlyphs" stroke="#000" stroke-width="1.3">a</text>
<text x="691.9" y="1342.4" font-family="Liberation Serif" font-size="34" font-weight="normal" textLength="89.0" lengthAdjust="spacingAndGlyphs" stroke="#000" stroke-width="1.3">koboz</text>
<text x="790.8" y="1343.0" font-family="Liberation Serif" font-size="34" font-weight="normal" textLength="133.6" lengthAdjust="spacingAndGlyphs" stroke="#000" stroke-width="1.3">részeinek</text>
<text x="932.7" y="1343.8" font-family="Liberation Serif" font-size="34" font-weight="normal" textLength="206.8" lengthAdjust="spacingAndGlyphs" stroke="#000" stroke-width="1.3">elnevezéséhez.</text>
<text x="100.3" y="1382.8" font-family="Liberation Sans" font-size="27" font-weight="bold" textLength="35.7" lengthAdjust="spacingAndGlyphs" stroke="#000" stroke-width="0.7">57</text>
<text x="100.7" y="1424.9" font-family="Liberation Sans" font-size="28" font-weight="bold" textLength="34.1" lengthAdjust="spacingAndGlyphs" stroke="#000" stroke-width="0.7">58</text>
<text x="99.9" y="1467.7" font-family="Liberation Sans" font-size="28" font-weight="bold" textLength="36.1" lengthAdjust="spacingAndGlyphs" stroke="#000" stroke-width="0.7">59</text>
<text x="148.4" y="1398.5" font-family="Liberation Serif" font-size="35.5" font-weight="bold" textLength="150.4" lengthAdjust="spacingAndGlyphs" stroke="#000" stroke-width="0.7">DINCSÉR</text>
<text x="304.8" y="1399.1" font-family="Liberation Serif" font-size="35.5" font-weight="bold" textLength="37.6" lengthAdjust="spacingAndGlyphs" stroke="#000" stroke-width="0.7">O.</text>
<text x="354.3" y="1399.3" font-family="Liberation Serif" font-size="35.5" font-weight="normal" textLength="83.1" lengthAdjust="spacingAndGlyphs" stroke="#000" stroke-width="1.0">1943.</text>
<text x="450.3" y="1399.6" font-family="Liberation Serif" font-size="35.5" font-weight="normal" textLength="54.4" lengthAdjust="spacingAndGlyphs" stroke="#000" stroke-width="1.0">75.;</text>
<text x="517.5" y="1399.9" font-family="Liberation Serif" font-size="35.5" font-weight="normal" textLength="172.2" lengthAdjust="spacingAndGlyphs" stroke="#000" stroke-width="1.0">BRĂILOIU,</text>
<text x="702.6" y="1400.6" font-family="Liberation Serif" font-size="35.5" font-weight="normal" textLength="27.7" lengthAdjust="spacingAndGlyphs" stroke="#000" stroke-width="1.0">C.</text>
<text x="744.2" y="1400.7" font-family="Liberation Serif" font-size="35.5" font-weight="normal" textLength="82.1" lengthAdjust="spacingAndGlyphs" stroke="#000" stroke-width="1.0">1943.</text>
<text x="837.2" y="1401.1" font-family="Liberation Serif" font-size="35.5" font-weight="normal" textLength="75.2" lengthAdjust="spacingAndGlyphs" stroke="#000" stroke-width="1.0">306.;</text>
<text x="924.3" y="1401.4" font-family="Liberation Serif" font-size="35.5" font-weight="normal" textLength="224.6" lengthAdjust="spacingAndGlyphs" stroke="#000" stroke-width="1.0">ALEXANDRU,</text>
<text x="1159.8" y="1402.2" font-family="Liberation Serif" font-size="35.5" font-weight="normal" textLength="31.6" lengthAdjust="spacingAndGlyphs" stroke="#000" stroke-width="1.0">T.</text>
<text x="1204.0" y="1402.4" font-family="Liberation Serif" font-size="35.5" font-weight="normal" textLength="79.1" lengthAdjust="spacingAndGlyphs" stroke="#000" stroke-width="1.0">1956.</text>
<text x="1295.0" y="1402.7" font-family="Liberation Serif" font-size="35.5" font-weight="normal" textLength="43.5" lengthAdjust="spacingAndGlyphs" stroke="#000" stroke-width="1.0">65.</text>
<text x="1351.4" y="1403.0" font-family="Liberation Serif" font-size="33" font-weight="bold" textLength="58.4" lengthAdjust="spacingAndGlyphs" stroke="#000" stroke-width="0.7">kép.</text>
<text x="148.4" y="1440.1" font-family="Liberation Serif" font-size="33.5" font-weight="bold" textLength="146.5" lengthAdjust="spacingAndGlyphs" stroke="#000" stroke-width="0.9">Egyiküket</text>
<text x="309.7" y="1440.9" font-family="Liberation Serif" font-size="32" font-weight="bold" textLength="55.4" lengthAdjust="spacingAndGlyphs" stroke="#000" stroke-width="0.9">sem</text>
<text x="388.9" y="1441.2" font-family="Liberation Serif" font-size="32" font-weight="bold" textLength="97.0" lengthAdjust="spacingAndGlyphs" stroke="#000" stroke-width="0.9">tudtuk</text>
<text x="508.6" y="1441.8" font-family="Liberation Serif" font-size="32" font-weight="bold" textLength="172.2" lengthAdjust="spacingAndGlyphs" stroke="#000" stroke-width="0.9">azonosítani,</text>
<text x="705.6" y="1442.7" font-family="Liberation Serif" font-size="32" font-weight="bold" textLength="86.1" lengthAdjust="spacingAndGlyphs" stroke="#000" stroke-width="0.9">írásuk</text>
<text x="815.4" y="1443.2" font-family="Liberation Serif" font-size="32" font-weight="bold" textLength="177.1" lengthAdjust="spacingAndGlyphs" stroke="#000" stroke-width="0.9">bizonytalan.</text>
<text x="1016.3" y="1444.2" font-family="Liberation Serif" font-size="35.5" font-weight="bold" textLength="22.7" lengthAdjust="spacingAndGlyphs" stroke="#000" stroke-width="0.9">A</text>
<text x="1060.8" y="1444.4" font-family="Liberation Serif" font-size="32" font-weight="bold" textLength="126.7" lengthAdjust="spacingAndGlyphs" stroke="#000" stroke-width="0.9">térképen</text>
<text x="1207.9" y="1445.1" font-family="Liberation Serif" font-size="32" font-weight="bold" textLength="59.4" lengthAdjust="spacingAndGlyphs" stroke="#000" stroke-width="0.9">nem</text>
<text x="1287.1" y="1445.5" font-family="Liberation Serif" font-size="32" font-weight="bold" textLength="114.8" lengthAdjust="spacingAndGlyphs" stroke="#000" stroke-width="0.9">jeleztük</text>
<text x="1421.7" y="1446.1" font-family="Liberation Serif" font-size="32" font-weight="bold" textLength="73.2" lengthAdjust="spacingAndGlyphs" stroke="#000" stroke-width="0.9">őket.</text>
<text x="148.4" y="1483.0" font-family="Liberation Serif" font-size="35.5" font-weight="bold" textLength="225.6" lengthAdjust="spacingAndGlyphs" stroke="#000" stroke-width="0.7">ALEXANDRU,</text>
<text x="383.0" y="1483.8" font-family="Liberation Serif" font-size="35.5" font-weight="bold" textLength="29.7" lengthAdjust="spacingAndGlyphs" stroke="#000" stroke-width="0.7">T.</text>
<text x="426.5" y="1483.9" font-family="Liberation Serif" font-size="35.5" font-weight="bold" textLength="79.2" lengthAdjust="spacingAndGlyphs" stroke="#000" stroke-width="0.7">1956.</text>
<text x="516.6" y="1484.3" font-family="Liberation Serif" font-size="35.5" font-weight="bold" textLength="39.5" lengthAdjust="spacingAndGlyphs" stroke="#000" stroke-width="0.7">61.</text>
<text x="573.0" y="1484.4" font-family="Liberation Serif" font-size="32" font-weight="bold" textLength="26.7" lengthAdjust="spacingAndGlyphs" stroke="#000" stroke-width="0.7">és</text>
<text x="610.6" y="1484.6" font-family="Liberation Serif" font-size="35.5" font-weight="bold" textLength="42.5" lengthAdjust="spacingAndGlyphs" stroke="#000" stroke-width="0.7">64.</text>
<text x="667.0" y="1484.8" font-family="Liberation Serif" font-size="32" font-weight="bold" textLength="61.3" lengthAdjust="spacingAndGlyphs" stroke="#000" stroke-width="0.7">kép,</text>
<text x="739.2" y="1485.0" font-family="Liberation Serif" font-size="35.5" font-weight="bold" textLength="55.4" lengthAdjust="spacingAndGlyphs" stroke="#000" stroke-width="0.7">45.,</text>
<text x="804.5" y="1485.2" font-family="Liberation Serif" font-size="35.5" font-weight="bold" textLength="41.6" lengthAdjust="spacingAndGlyphs" stroke="#000" stroke-width="0.7">46.</text>
<text x="862.9" y="1485.4" font-family="Liberation Serif" font-size="32" font-weight="bold" textLength="59.4" lengthAdjust="spacingAndGlyphs" stroke="#000" stroke-width="0.7">kép;</text>
<text x="936.1" y="1485.7" font-family="Liberation Serif" font-size="35.5" font-weight="bold" textLength="223.7" lengthAdjust="spacingAndGlyphs" stroke="#000" stroke-width="0.7">ALEXANDRU,</text>
<text x="1173.6" y="1486.5" font-family="Liberation Serif" font-size="35.5" font-weight="bold" textLength="27.7" lengthAdjust="spacingAndGlyphs" stroke="#000" stroke-width="0.7">T.</text>
<text x="1212.9" y="1486.6" font-family="Liberation Serif" font-size="32" font-weight="bold" textLength="26.7" lengthAdjust="spacingAndGlyphs" stroke="#000" stroke-width="0.7">é.</text>
<text x="1246.5" y="1486.7" font-family="Liberation Serif" font-size="32" font-weight="bold" textLength="26.7" lengthAdjust="spacingAndGlyphs" stroke="#000" stroke-width="0.7">n.</text>
<text x="1287.1" y="1486.9" font-family="Liberation Serif" font-size="35.5" font-weight="bold" textLength="29.7" lengthAdjust="spacingAndGlyphs" stroke="#000" stroke-width="0.7">7.,</text>
<text x="1334.6" y="1487.0" font-family="Liberation Serif" font-size="35.5" font-weight="bold" textLength="41.5" lengthAdjust="spacingAndGlyphs" stroke="#000" stroke-width="0.7">17.</text>
</svg>
</body></html>
